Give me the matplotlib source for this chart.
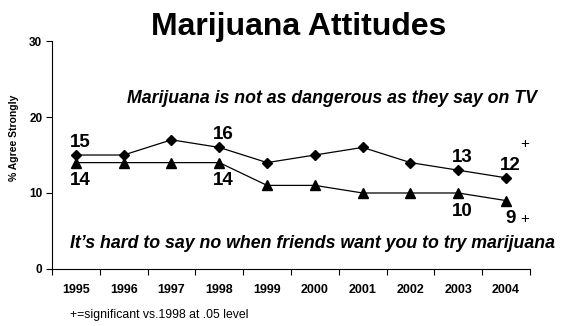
import matplotlib
matplotlib.use("Agg")
import matplotlib.pyplot as plt
from matplotlib.ticker import FixedLocator

plt.rcParams['font.family'] = ['Liberation Sans', 'DejaVu Sans']

years = ["1995", "1996", "1997", "1998", "1999", "2000", "2001", "2002", "2003", "2004"]
not_dangerous = [15, 15, 17, 16, 14, 15, 16, 14, 13, 12]
hard_to_say_no = [14, 14, 14, 14, 11, 11, 10, 10, 10, 9]

# which points get a value label
labels_top = [0, 3, 8, 9]
labels_bottom = [0, 3, 8, 9]

fig = plt.figure(figsize=(5.62, 3.26), dpi=100)
ax = fig.add_axes([0.0925, 0.175, 0.8505, 0.699])

x = list(range(len(years)))
ax.plot(x, not_dangerous, color='black', lw=0.9, marker='D', ms=5, mfc='black', mec='black')
ax.plot(x, hard_to_say_no, color='black', lw=0.9, marker='^', ms=7, mfc='black', mec='black')

for i in labels_top:
    ax.annotate(str(not_dangerous[i]), (x[i], not_dangerous[i]), xytext=(3, 3),
                textcoords='offset points', ha='center', va='bottom',
                fontsize=13.5, fontweight='bold')
for i in labels_bottom:
    ax.annotate(str(hard_to_say_no[i]), (x[i], hard_to_say_no[i]), xytext=(3, -7),
                textcoords='offset points', ha='center', va='top',
                fontsize=13.5, fontweight='bold')

ax.text(5.35, 22.5, "Marijuana is not as dangerous as they say on TV", ha='center',
        va='center', fontsize=12.8, fontweight='bold', style='italic')
ax.text(4.95, 3.4, "It\u2019s hard to say no when friends want you to try marijuana",
        ha='center', va='center', fontsize=12.8, fontweight='bold', style='italic')

ax.text(9.4, 16.5, "+", ha='center', va='center', fontsize=11)
ax.text(9.4, 6.6, "+", ha='center', va='center', fontsize=11)

ax.set_xlim(-0.5, len(years) - 0.5)
ax.set_ylim(0, 30)
ax.set_yticks([0, 10, 20, 30])
ax.set_yticklabels(["0", "10", "20", "30"], fontsize=8.5, fontweight='bold')
ax.xaxis.set_major_locator(FixedLocator([i - 0.5 for i in range(len(years) + 1)]))
ax.xaxis.set_major_formatter(plt.NullFormatter())
ax.xaxis.set_minor_locator(FixedLocator(x))
ax.set_xticklabels(years, minor=True, fontsize=9, fontweight='bold')
ax.tick_params(axis='x', which='minor', length=0, pad=11)
ax.tick_params(axis='x', which='major', length=4, width=0.8)
ax.tick_params(axis='y', length=4, width=0.8, pad=3)

for side in ['top', 'right']:
    ax.spines[side].set_visible(False)
for side in ['left', 'bottom']:
    ax.spines[side].set_linewidth(0.8)

ax.set_ylabel("% Agree Strongly", fontsize=7.5, fontweight='bold')
ax.yaxis.set_label_coords(-0.068, 0.575)

fig.text(0.531, 0.916, "Marijuana Attitudes", ha='center', va='center',
         fontsize=23, fontweight='bold')
fig.text(0.125, 0.034, "+=significant vs.1998 at .05 level", ha='left', va='center',
         fontsize=8.8)

fig.savefig("out.png", dpi=100)
